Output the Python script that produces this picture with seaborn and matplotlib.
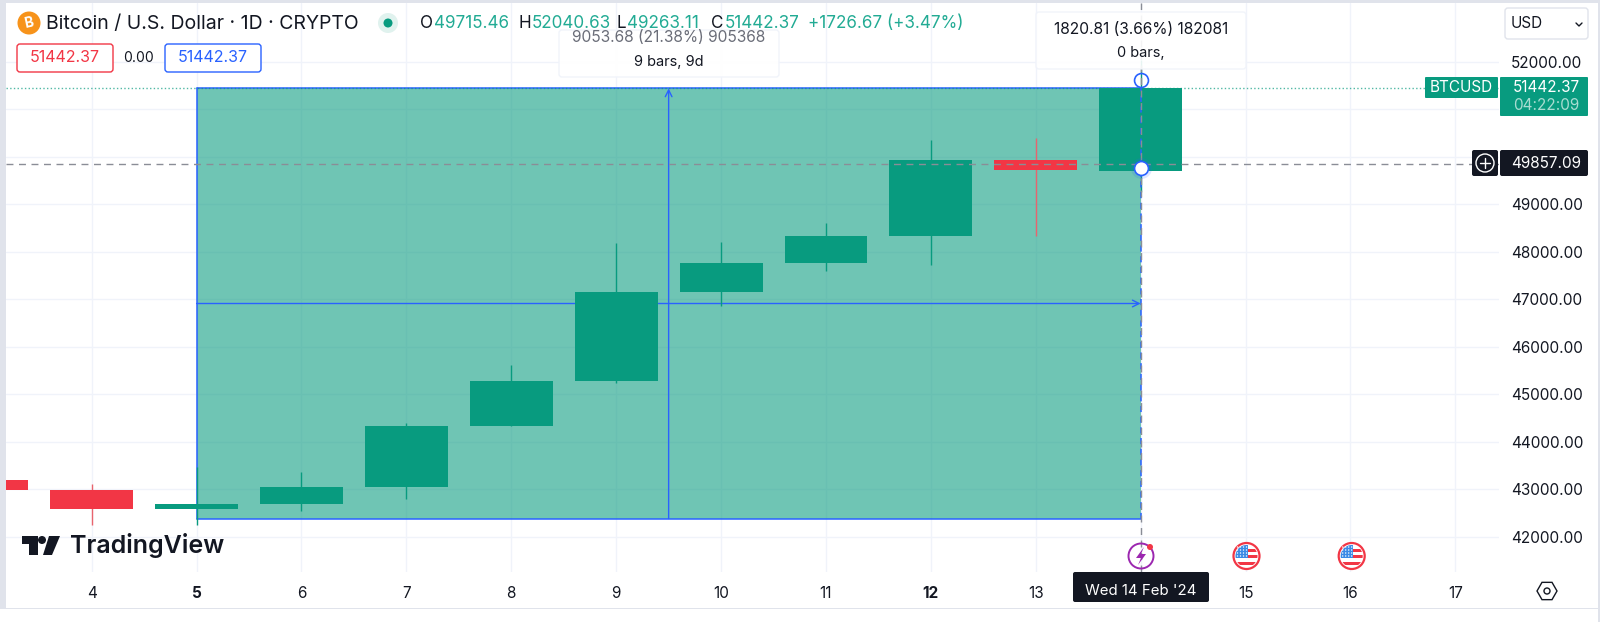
# BTCUSD daily candles with a TradingView style date and price range drawing
import pandas as pd
import matplotlib.pyplot as plt
import matplotlib.patches as mpatches
import seaborn as sns

# candle data
days = [3, 4, 5, 6, 7, 8, 9, 10, 11, 12, 13, 14]
opens = [43200, 42990, 42580, 42700, 43050, 44340, 45280, 47150, 47770, 48330, 49940, 49715.46]
closes = [42990, 42580, 42700, 43050, 44340, 45280, 47150, 47770, 48330, 49940, 49720, 51442.37]
highs = [43300, 43110, 43480, 43370, 44400, 45620, 48180, 48220, 48600, 50350, 50410, 52040.63]
lows = [42950, 42260, 42260, 42540, 42800, 44340, 45250, 46870, 47600, 47730, 48330, 49263.11]

price_ticks = [42000, 43000, 44000, 45000, 46000, 47000, 48000, 49000, 50000, 51000, 52000]
price_labels = ['42000.00', '43000.00', '44000.00', '45000.00', '46000.00', '47000.00',
                '48000.00', '49000.00', '', '', '52000.00']
day_ticks = [4, 5, 6, 7, 8, 9, 10, 11, 12, 13, 14, 15, 16, 17]
day_labels = ['4', '5', '6', '7', '8', '9', '10', '11', '12', '13', '', '15', '16', '17']
bold_days = ['5', '12']

last_price = 51442.37
cross_price = 49857.09
range_start_day = 5
range_end_day = 14
range_low = 42388.69
range_mid = 46915.53
range_mid_day = 9.5
handle_top = 51620
handle_bottom = 49770

GREEN = '#089b7f'
RED = '#f23645'
BLUE = '#2962ff'
DARK = '#131722'
GRID = '#f0f3fa'
EDGE = '#e0e3eb'
TEXT_GREEN = '#22ab94'

sns.set_theme(style='white')
plt.rcParams['font.family'] = ['Inter', 'DejaVu Sans']

df = pd.DataFrame({'day': days, 'open': opens, 'close': closes, 'high': highs, 'low': lows})
df['bottom'] = df[['open', 'close']].min(axis=1)
df['height'] = (df['close'] - df['open']).abs()
up = df[df['close'] >= df['open']]
down = df[df['close'] < df['open']]

W, H = 1600, 622
fig = plt.figure(figsize=(16, 6.22), dpi=100, facecolor='white')
# main axes, placed by pixel edges
ax = fig.add_axes([6 / W, 1 - 572 / H, (1499 - 6) / W, (572 - 3) / H])

# range drawing underneath the candles
ax.fill_between([range_start_day, range_end_day], range_low, last_price,
                color=GREEN, alpha=0.58, lw=0, zorder=1)
ax.plot([range_start_day, range_end_day], [last_price, last_price], color=BLUE, lw=1.1, zorder=2)
ax.plot([range_start_day, range_end_day], [range_low, range_low], color=BLUE, lw=1.1, zorder=2)
ax.plot([range_start_day, range_start_day], [range_low, last_price], color=BLUE, lw=1.1, zorder=2)
ax.annotate('', xy=(range_end_day, range_mid), xytext=(range_start_day, range_mid), zorder=2,
            arrowprops=dict(arrowstyle='->', color=BLUE, lw=1, shrinkA=0, shrinkB=0))
ax.annotate('', xy=(range_mid_day, last_price), xytext=(range_mid_day, range_low), zorder=2,
            arrowprops=dict(arrowstyle='->', color=BLUE, lw=1, shrinkA=0, shrinkB=0))

# wicks then bodies
ax.vlines(up['day'], up['low'], up['high'], color=GREEN, lw=1, zorder=3)
ax.vlines(down['day'], down['low'], down['high'], color='#e8646e', lw=1, zorder=3)
sns.barplot(data=up, x='day', y='height', bottom=up['bottom'].values, native_scale=True,
            color=GREEN, saturation=1, width=0.79, errorbar=None, linewidth=0, zorder=4, ax=ax)
sns.barplot(data=down, x='day', y='height', bottom=down['bottom'].values, native_scale=True,
            color=RED, saturation=1, width=0.79, errorbar=None, linewidth=0, zorder=4, ax=ax)

ax.plot([range_end_day, range_end_day], [range_low, last_price], color=BLUE, lw=1.1, ls=(0, (4, 3)), zorder=5)
ax.axhline(last_price, color=GREEN, lw=1, ls=':', alpha=0.7, zorder=2)
ax.axhline(cross_price, color='#8a8d96', lw=1, ls=(0, (5, 4)), zorder=6)
ax.axvline(range_end_day, color='#8a8d96', lw=1, ls=(0, (5, 4)), zorder=6)
ax.plot([range_end_day], [handle_top], marker='o', ms=10, mfc='none', mec=BLUE, mew=1.2, zorder=7)
ax.plot([range_end_day], [handle_bottom], marker='o', ms=15, mfc=BLUE, mec='none', alpha=0.15, zorder=7)
ax.plot([range_end_day], [handle_bottom], marker='o', ms=10, mfc='white', mec=BLUE, mew=1.2, zorder=8)

ax.set_xlim(3.183, 17.416)
ax.set_ylim(41263, 53242)
ax.set_xticks(day_ticks)
ax.set_xticklabels(day_labels)
ax.set_yticks(price_ticks)
ax.set_yticklabels(price_labels)
ax.yaxis.tick_right()
ax.tick_params(axis='y', length=0, pad=8.5, labelsize=11, labelcolor=DARK)
ax.tick_params(axis='x', length=0, pad=10, labelsize=11, labelcolor=DARK)
for lab in ax.get_xticklabels():
    if lab.get_text() in bold_days:
        lab.set_fontweight('bold')
ax.set_xlabel('')
ax.set_ylabel('')
ax.grid(True, color=GRID, lw=1)
ax.set_axisbelow(True)
sns.despine(ax=ax, left=True, bottom=True, right=True, top=True)

# overlay in pixel coordinates for the TradingView chrome
ov = fig.add_axes([0, 0, 1, 1], zorder=10)
ov.set_xlim(0, W)
ov.set_ylim(H, 0)
ov.axis('off')
ov.patch.set_alpha(0)


def box(x0, y0, x1, y1, fc='white', ec='none', lw=1, r=3, alpha=None, z=2):
    p = mpatches.FancyBboxPatch((x0 + r, y0 + r), x1 - x0 - 2 * r, y1 - y0 - 2 * r,
                                boxstyle=f'round,pad={r},rounding_size={r}',
                                fc=fc, ec=ec, lw=lw, alpha=alpha, zorder=z)
    ov.add_patch(p)
    return p


def label(x, y, s, color=DARK, size=11, ha='left', weight='normal', z=5, **kw):
    ov.text(x, y, s, color=color, fontsize=size, ha=ha, va='center', fontweight=weight, zorder=z, **kw)


# window frame
ov.add_patch(mpatches.Rectangle((0, 0), 6, 622, fc=EDGE, ec='none', zorder=1))
ov.add_patch(mpatches.Rectangle((0, 0), W, 3, fc=EDGE, ec='none', zorder=1))
ov.add_patch(mpatches.Rectangle((0, 608), W, 1.2, fc=EDGE, ec='none', zorder=1))
ov.add_patch(mpatches.Rectangle((0, 609.2), W, 13, fc='white', ec='none', zorder=1))
ov.add_patch(mpatches.Rectangle((1598, 0), 2, 622, fc=EDGE, ec='none', zorder=1))

# measure tooltips go under the header text
box(559, 30, 779, 77, ec=GRID, alpha=0.95, z=1)
label(669, 37, '9053.68 (21.38%) 905368', color='#6a6d78', size=11.2, ha='center', z=2)
label(669, 62, '9 bars, 9d', size=10.5, ha='center', z=2)
box(1036, 12, 1246, 69, ec=GRID, alpha=0.9, z=1)
label(1141, 29, '1820.81 (3.66%) 182081', size=11.2, ha='center', z=2)
label(1141, 53, '0 bars,', size=10.5, ha='center', z=2)

# header
ov.add_patch(mpatches.Circle((29, 23), 11.5, fc='#f7931a', ec='none', zorder=3))
label(29, 23, 'B', color='white', size=10, ha='center', weight='bold', rotation=12)
label(46, 24, 'Bitcoin / U.S. Dollar · 1D · CRYPTO', size=14)
ov.add_patch(mpatches.Circle((388, 23), 10, fc='#e0f2ee', ec='none', zorder=3))
ov.add_patch(mpatches.Circle((388, 23), 4.5, fc=GREEN, ec='none', zorder=4))
for lx, vx, letter, val in [(420, 434, 'O', '49715.46'), (519, 532, 'H', '52040.63'),
                            (616, 626.6, 'L', '49263.11'), (711, 724.5, 'C', '51442.37')]:
    label(lx, 24, letter, size=12.3)
    label(vx, 24, val, color=TEXT_GREEN, size=12.3)
label(808, 24, '+1726.67 (+3.47%)', color=TEXT_GREEN, size=12.3)

box(17, 44, 113, 72, ec=RED, lw=1)
label(65, 58, '51442.37', color=RED, size=11.5, ha='center')
label(139, 58, '0.00', size=10, ha='center')
box(165, 44, 261, 72, ec=BLUE, lw=1)
label(213, 58, '51442.37', color=BLUE, size=11.5, ha='center')

# right hand price scale
box(1505, 8, 1588, 39, ec=EDGE)
label(1511, 24, 'USD', size=11)
ov.plot([1576, 1579, 1582], [23, 26, 23], color=DARK, lw=1, zorder=5)
box(1425, 77, 1498, 98, fc=GREEN, r=1)
label(1461, 87.5, 'BTCUSD', color='white', size=11, ha='center')
box(1500, 77, 1588, 116, fc=GREEN, r=1)
label(1546, 88, '51442.37', color='white', size=11, ha='center')
label(1546, 106, '04:22:09', color='#a8dcd1', size=11, ha='center')
box(1472, 150, 1498, 176, fc=DARK, r=2)
box(1500, 150, 1588, 176, fc=DARK, r=2)
label(1546, 163, '49857.09', color='white', size=11, ha='center')
ov.add_patch(mpatches.Circle((1485, 163), 9, fc='none', ec='white', lw=1, zorder=5))
ov.plot([1480, 1490], [163, 163], color='white', lw=1, zorder=5)
ov.plot([1485, 1485], [158, 168], color='white', lw=1, zorder=5)

# logo
ov.add_patch(mpatches.Polygon([(22, 536), (38, 536), (38, 555), (29, 555), (29, 544), (22, 544)],
                              fc=DARK, ec='none', zorder=5))
ov.add_patch(mpatches.Circle((42, 540), 4, fc=DARK, ec='none', zorder=5))
ov.add_patch(mpatches.Polygon([(49, 536), (60, 536), (52, 555), (43, 555)], fc=DARK, ec='none', zorder=5))
label(70, 546, 'TradingView', size=18, weight='semibold')

# time axis tooltip and event icons
box(1073, 572, 1209, 602, fc=DARK, r=2)
label(1141, 591, "Wed 14 Feb '24", color='white', size=10.8, ha='center')
ov.add_patch(mpatches.Circle((1141, 556), 12.5, fc='none', ec='#9c27b0', lw=1.4, zorder=4))
ov.add_patch(mpatches.Polygon([(1144, 547), (1136, 558), (1141, 558), (1138, 565), (1146, 554), (1141, 554)],
                              fc='#9c27b0', ec='none', zorder=5))
ov.add_patch(mpatches.Circle((1150, 547), 3, fc=RED, ec='none', zorder=6))
for cx in [1246.5, 1351.7]:
    ov.add_patch(mpatches.Circle((cx, 556), 13, fc='white', ec=RED, lw=1.6, zorder=4))
    clip = mpatches.Circle((cx, 556), 11, transform=ov.transData)
    for sx, sy, sw, sh in [(cx, 549, 12, 3), (cx, 555, 12, 3), (cx - 12, 561.5, 24, 3.5)]:
        s = mpatches.Rectangle((sx, sy), sw, sh, fc=RED, ec='none', zorder=5)
        ov.add_patch(s)
        s.set_clip_path(clip)
    s = mpatches.Rectangle((cx - 12, 545), 13, 13, fc='#3b8ae6', ec='none', zorder=6)
    ov.add_patch(s)
    s.set_clip_path(clip)
    for dx in [-9, -6, -3, 0]:
        for dy in [-9, -6, -3, 0]:
            ov.add_patch(mpatches.Circle((cx + dx, 556 + dy), 0.7, fc='white', ec='none', zorder=7))
ov.add_patch(mpatches.RegularPolygon((1547, 591), 6, radius=10, orientation=0.5236,
                                     fc='none', ec=DARK, lw=1, zorder=5))
ov.add_patch(mpatches.Circle((1547, 591), 3, fc='none', ec=DARK, lw=1, zorder=5))

plt.savefig('out.png', dpi=100)
